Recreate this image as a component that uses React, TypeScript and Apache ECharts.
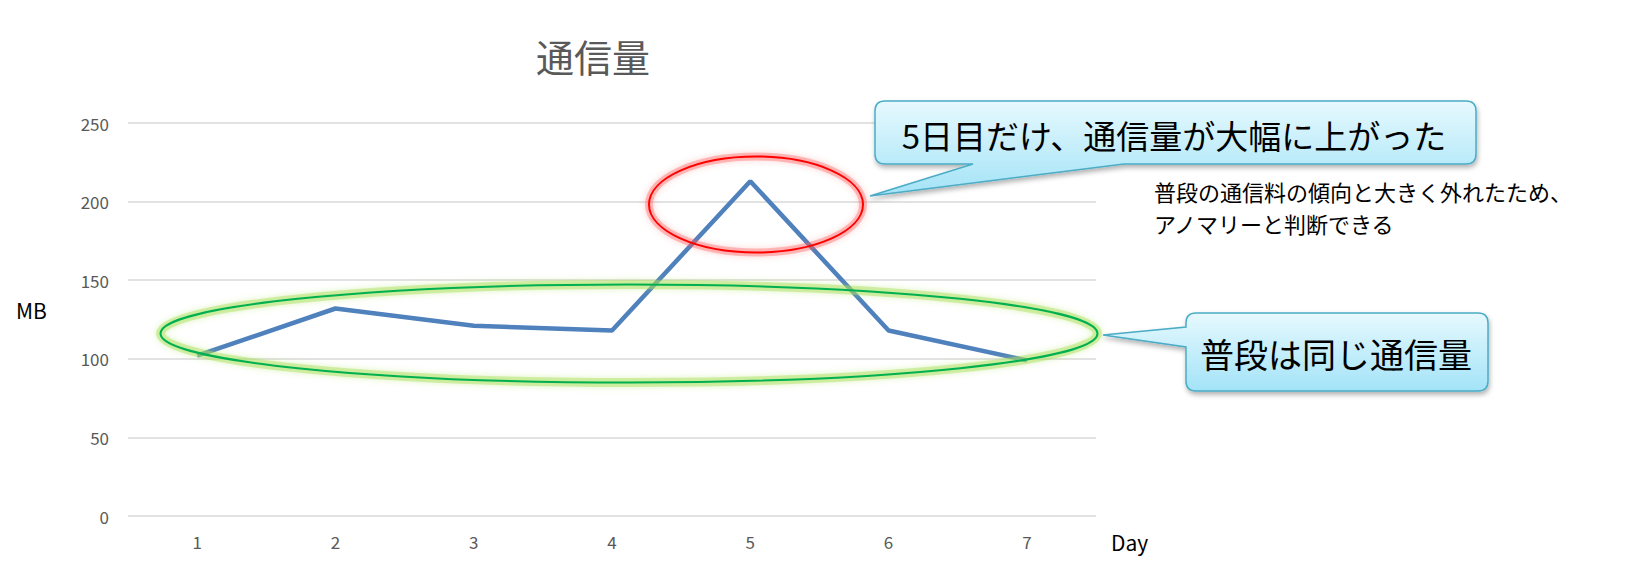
import React, { useEffect, useRef } from "react";
import * as echarts from "echarts";

const days = ["1", "2", "3", "4", "5", "6", "7"];
const traffic = [102, 132, 121, 118, 213, 118, 99];
const yMin = 0;
const yMax = 250;
const yStep = 50;

const titleText = "通信量";
const yName = "MB";
const xName = "Day";
const callout1Text = "5日目だけ、通信量が大幅に上がった";
const callout2Text = "普段は同じ通信量";
const noteLines = ["普段の通信料の傾向と大きく外れたため、", "アノマリーと判断できる"];

const JP = "'Noto Sans CJK JP', 'Noto Sans', sans-serif";

const callout1Path =
  "M885 101 L1466 101 Q1476 101 1476 111 L1476 154 Q1476 164 1466 164 L1124 164 L870 196 L973 164 L885 164 Q875 164 875 154 L875 111 Q875 101 885 101 Z";
const callout2Path =
  "M1196 313 L1478 313 Q1488 313 1488 323 L1488 381 Q1488 391 1478 391 L1196 391 Q1186 391 1186 381 L1186 347 L1103 335 L1186 327 L1186 323 Q1186 313 1196 313 Z";

let registered = false;
function registerShapes() {
  if (registered) return;
  echarts.graphic.registerShape("callout1", echarts.graphic.extendPath(callout1Path, {}) as any);
  echarts.graphic.registerShape("callout2", echarts.graphic.extendPath(callout2Path, {}) as any);
  registered = true;
}

export default function App() {
  const ref = useRef<HTMLDivElement>(null);

  useEffect(() => {
    if (!ref.current) return;
    registerShapes();
    const chart = echarts.init(ref.current, null, { renderer: "svg" });

    const bubbleFill = () =>
      new echarts.graphic.LinearGradient(0, 0, 0, 1, [
        { offset: 0, color: "#E6F9FE" },
        { offset: 1, color: "#A3E3F7" },
      ]);
    const bubbleStyle = () => ({
      fill: bubbleFill(),
      stroke: "#4BACC6",
      lineWidth: 1.5,
      shadowBlur: 5,
      shadowOffsetX: 1,
      shadowOffsetY: 3,
      shadowColor: "rgba(0,0,0,0.3)",
    });

    const greenShape = { cx: 629, cy: 333.5, rx: 468.5, ry: 49 };
    const redShape = { cx: 756, cy: 204.5, rx: 107, ry: 48 };

    chart.setOption({
      animation: false,
      backgroundColor: "#ffffff",
      grid: { left: 128, right: 551, top: 123, bottom: 56, containLabel: false },
      xAxis: {
        type: "category",
        data: days,
        boundaryGap: true,
        axisLine: { show: false },
        axisTick: { show: false },
        axisLabel: { color: "#595959", fontSize: 17, margin: 17, fontFamily: JP },
      },
      yAxis: {
        type: "value",
        min: yMin,
        max: yMax,
        interval: yStep,
        axisLine: { show: false },
        axisTick: { show: false },
        axisLabel: { color: "#595959", fontSize: 17, margin: 19, fontFamily: JP },
        splitLine: { lineStyle: { color: "#D9D9D9", width: 1.5 } },
      },
      series: [
        {
          type: "line",
          data: traffic,
          symbol: "none",
          lineStyle: { color: "#4F81BD", width: 4.5 },
        },
      ],
      graphic: [
        {
          type: "text",
          x: 593,
          y: 55,
          style: {
            text: titleText,
            fill: "#595959",
            font: `38px ${JP}`,
            align: "center",
            verticalAlign: "middle",
          },
        },
        {
          type: "text",
          x: 16,
          y: 310,
          style: { text: yName, fill: "#000", font: `21px ${JP}`, align: "left", verticalAlign: "middle" },
        },
        {
          type: "text",
          x: 1111,
          y: 542,
          style: { text: xName, fill: "#000", font: `21px ${JP}`, align: "left", verticalAlign: "middle" },
        },
        {
          type: "ellipse",
          shape: greenShape,
          style: {
            fill: "none",
            stroke: "rgba(170,225,90,0.45)",
            lineWidth: 9,
            shadowBlur: 6,
            shadowColor: "rgba(170,225,90,0.8)",
          },
          z: 9,
        },
        {
          type: "ellipse",
          shape: greenShape,
          style: { fill: "none", stroke: "#00B050", lineWidth: 2 },
          z: 10,
        },
        {
          type: "ellipse",
          shape: redShape,
          style: {
            fill: "none",
            stroke: "rgba(255,90,90,0.35)",
            lineWidth: 8,
            shadowBlur: 6,
            shadowColor: "rgba(255,90,90,0.7)",
          },
          z: 9,
        },
        {
          type: "ellipse",
          shape: redShape,
          style: { fill: "none", stroke: "#FF0000", lineWidth: 2 },
          z: 10,
        },
        {
          type: "callout1",
          x: 0,
          y: 0,
          style: bubbleStyle(),
          z: 20,
        },
        {
          type: "text",
          x: 1174,
          y: 135,
          style: {
            text: callout1Text,
            fill: "#000",
            font: `33px ${JP}`,
            align: "center",
            verticalAlign: "middle",
          },
          z: 21,
        },
        {
          type: "callout2",
          x: 0,
          y: 0,
          style: bubbleStyle(),
          z: 20,
        },
        {
          type: "text",
          x: 1336,
          y: 353,
          style: {
            text: callout2Text,
            fill: "#000",
            font: `34px ${JP}`,
            align: "center",
            verticalAlign: "middle",
          },
          z: 21,
        },
        {
          type: "text",
          x: 1154,
          y: 207,
          style: {
            text: noteLines.join("\n"),
            fill: "#000",
            font: `22px ${JP}`,
            lineHeight: 32,
            align: "left",
            verticalAlign: "middle",
          },
          z: 21,
        },
      ],
    });

    return () => chart.dispose();
  }, []);

  return (
    <div
      ref={ref}
      style={{ position: "fixed", left: 0, top: 0, width: 1647, height: 572, background: "#fff" }}
    />
  );
}
